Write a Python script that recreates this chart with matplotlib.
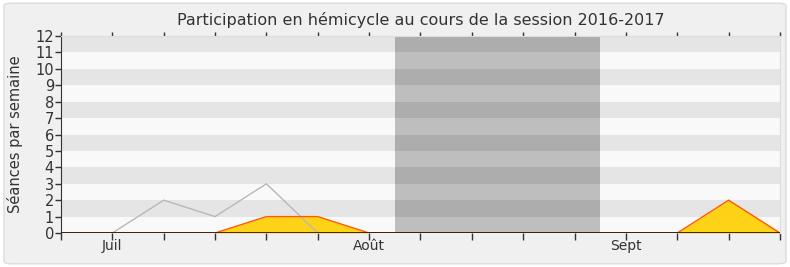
import numpy as np
import matplotlib.pyplot as plt
from matplotlib.patches import FancyBboxPatch

# weekly values, one per tick (15 weeks)
weeks = np.arange(15)
presence = [0, 0, 0, 0, 1, 1, 0, 0, 0, 0, 0, 0, 0, 2, 0]
total = [np.nan, 0, 2, 1, 3, 0, 0, 0, 0, 0, 0, 0, 0, 0, 0]
month_pos = [1, 6, 11]
month_labels = ['Juil', 'Août', 'Sept']
vacation = (6.5, 10.5)
ymax = 12

fig = plt.figure(figsize=(7.9, 2.67), dpi=100)
fig.patch.set_facecolor('white')
bg = FancyBboxPatch((0.005, 0.012), 0.99, 0.976, boxstyle='round,pad=0,rounding_size=0.01',
                    transform=fig.transFigure, facecolor='#f0f0f0', edgecolor='#dcdcdc', lw=1, zorder=-10)
fig.patches.append(bg)

ax = fig.add_axes([0.0772, 0.1273, 0.9101, 0.7379])
ax.set_facecolor('#f9f9f9')

# horizontal stripes
for y in range(ymax):
    if y % 2 == 1:
        ax.axhspan(y, y + 1, color='#e5e5e5', lw=0, zorder=0)
# vacation band
ax.axvspan(vacation[0], vacation[1], color='#bebebe', lw=0, zorder=1)
for y in range(ymax):
    if y % 2 == 1:
        ax.fill_between(vacation, y, y + 1, color='#adadad', lw=0, zorder=1)

ax.plot(weeks, total, color='#b8b8b8', lw=1, zorder=3)
ax.fill_between(weeks, presence, 0, color='#ffd10a', lw=0, zorder=2, alpha=0.95)
ax.plot(weeks, presence, color='#ff5a00', lw=1, zorder=3)
ax.axhline(0, color='#2a0a00', lw=1.2, zorder=4)

ax.set_xlim(0, 14)
ax.set_ylim(0, ymax)
ax.set_xticks(weeks)
ax.set_xticklabels(['' if i not in month_pos else month_labels[month_pos.index(i)] for i in weeks])
ax.set_yticks(range(ymax + 1))
ax.tick_params(axis='x', which='both', bottom=True, length=5, width=1, color='#333333', labelsize=10,
               labelcolor='#333333', pad=-1)
ax.tick_params(axis='x', top=True, labeltop=False)
ax.xaxis.set_tick_params(which='major', length=5)
for t in ax.xaxis.get_major_ticks():
    t.tick2line.set_markersize(3)
ax.tick_params(axis='y', length=4, width=1, color='#333333', labelsize=10.5, labelcolor='#333333', pad=1)
for s in ['top', 'right']:
    ax.spines[s].set_color('#dddddd')
ax.spines['bottom'].set_visible(False)
ax.spines['left'].set_color('#333333')

ax.set_ylabel('Séances par semaine', fontsize=10.5, color='#333333', labelpad=9)
ax.set_title('Participation en hémicycle au cours de la session 2016-2017', fontsize=11.5, color='#333333', pad=8)

fig.savefig('out.png', dpi=100, facecolor=fig.get_facecolor())
